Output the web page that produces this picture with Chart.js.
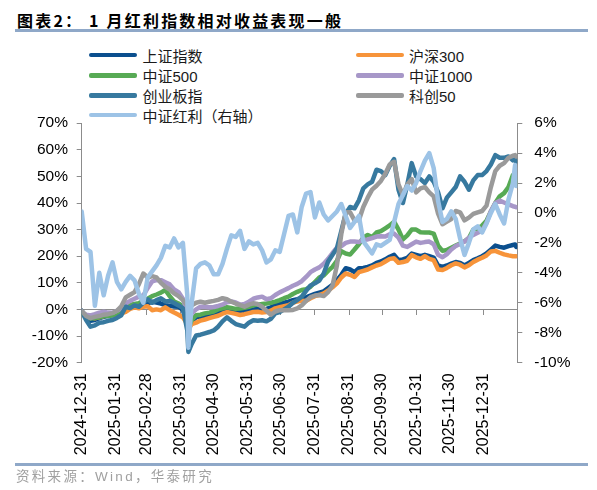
<!DOCTYPE html>
<html><head><meta charset="utf-8">
<script src="https://cdn.jsdelivr.net/npm/chart.js@4.4.1/dist/chart.umd.min.js"></script>
<style>
html,body{margin:0;padding:0;background:#fff;}
#page{position:relative;width:597px;height:490px;overflow:hidden;background:#fff;font-family:"Liberation Sans","Noto Sans CJK SC",sans-serif;}
#box{position:absolute;left:0;top:0;width:597px;height:490px;}
.rule{position:absolute;left:15px;width:573px;height:3px;background:#8FA8C8;}
#title{position:absolute;left:17px;top:8px;font-weight:bold;font-size:16px;font-family:"Noto Sans CJK SC",sans-serif;letter-spacing:2.2px;line-height:24px;color:#000;white-space:nowrap;}
#source{position:absolute;left:16px;top:468px;font-size:13.5px;line-height:18px;letter-spacing:2.3px;color:#A0A0A0;white-space:nowrap;}
.lg{position:absolute;height:20px;display:flex;align-items:center;white-space:nowrap;font-size:15px;color:#1a1a1a;}
.lg i{display:block;width:48px;height:4.5px;border-radius:2px;margin-right:5.5px;}
</style></head>
<body>
<div id="page">
  <div id="title">图表2： 1 月红利指数相对收益表现一般</div>
  <div class="rule" style="top:29.2px"></div>
  <div id="legend"></div>
  <div id="box"><canvas id="c"></canvas></div>
  <div class="rule" style="top:462.5px"></div>
  <div id="source">资料来源：Wind，华泰研究</div>
</div>
<script>
// ---- data ----
const dates = [
 '2024-12-31','2025-01-04','2025-01-08','2025-01-12','2025-01-16','2025-01-20','2025-01-24','2025-01-28','2025-02-01','2025-02-05',
 '2025-02-09','2025-02-13','2025-02-17','2025-02-21','2025-02-25','2025-03-01','2025-03-05','2025-03-09','2025-03-13','2025-03-17',
 '2025-03-21','2025-03-25','2025-03-29','2025-04-02','2025-04-06','2025-04-07','2025-04-10','2025-04-14','2025-04-18','2025-04-22',
 '2025-04-26','2025-04-30','2025-05-04','2025-05-08','2025-05-12','2025-05-16','2025-05-20','2025-05-24','2025-05-28','2025-06-01',
 '2025-06-05','2025-06-09','2025-06-13','2025-06-17','2025-06-21','2025-06-25','2025-06-29','2025-07-03','2025-07-07','2025-07-11',
 '2025-07-15','2025-07-19','2025-07-23','2025-07-27','2025-07-31','2025-08-04','2025-08-08','2025-08-12','2025-08-16','2025-08-20',
 '2025-08-24','2025-08-28','2025-09-01','2025-09-05','2025-09-09','2025-09-13','2025-09-17','2025-09-21','2025-09-25','2025-09-29',
 '2025-10-03','2025-10-07','2025-10-11','2025-10-15','2025-10-19','2025-10-23','2025-10-27','2025-10-31','2025-11-04','2025-11-08',
 '2025-11-12','2025-11-16','2025-11-20','2025-11-24','2025-11-28','2025-12-02','2025-12-06','2025-12-10','2025-12-14','2025-12-18',
 '2025-12-22','2025-12-26','2025-12-30','2026-01-03','2026-01-07','2026-01-11','2026-01-15','2026-01-19','2026-01-23','2026-01-27',
 '2026-01-29','2026-01-30'
];
// 上证指数 (%)
const shComposite = [
 -0.5,-3.0,-4.3,-4.0,-3.3,-2.8,-2.4,-2.2,-2.0,-1.0,
 0.3,1.0,1.0,1.0,1.4,2.2,2.9,2.6,2.2,1.6,
 1.4,1.1,1.0,-0.2,-5.0,-7.5,-4.5,-3.0,-2.8,-2.5,
 -2.3,-1.8,-1.2,-0.9,-0.5,-0.6,-0.9,-1.0,-0.8,-0.3,
 0.0,0.2,0.0,0.2,0.8,1.5,2.0,2.5,2.9,3.5,
 3.8,4.2,4.5,5.2,5.8,6.3,6.8,8.0,9.2,11.0,
 13.0,15.5,15.0,14.0,15.5,15.6,16.0,16.5,17.5,18.0,
 18.8,19.8,20.5,18.5,18.8,19.4,21.0,20.5,20.0,20.5,
 20.0,19.5,16.5,16.0,16.5,17.2,17.8,17.5,16.5,17.5,
 18.5,19.2,20.0,21.0,22.5,24.0,23.5,23.2,23.8,24.2,
 24.4,23.5
];
// 沪深300 (%)
const csi300 = [
 -1.0,-2.3,-3.0,-3.3,-3.0,-2.5,-2.2,-2.0,-1.8,-1.5,
 -0.9,0.2,0.8,0.4,1.0,1.2,-0.3,0.0,-0.3,0.8,
 -0.3,-1.2,-2.0,-3.0,-5.5,-7.5,-5.5,-5.0,-4.2,-3.8,
 -3.3,-2.8,-2.4,-1.6,-1.0,-1.3,-1.7,-2.1,-1.8,-1.4,
 -1.0,-0.9,-1.2,-1.0,-0.5,0.4,0.8,1.2,1.6,2.5,
 3.0,3.3,3.2,4.2,5.0,5.4,6.0,7.0,8.3,9.8,
 12.0,13.5,13.0,12.2,14.0,14.5,15.0,15.8,16.5,17.0,
 18.0,19.0,19.2,17.5,17.8,18.3,20.4,19.6,19.0,20.0,
 19.0,18.5,15.0,14.8,15.6,16.6,17.3,16.8,15.8,16.6,
 17.8,18.7,19.4,20.3,21.8,22.0,21.3,20.7,20.3,20.0,
 20.0,20.0
];
// 中证500 (%)
const csi500 = [
 -1.5,-2.8,-3.4,-3.2,-3.0,-2.5,-2.5,-2.2,-1.5,-0.9,
 1.0,1.8,2.0,2.3,3.3,4.0,5.0,5.6,6.3,7.3,
 5.0,3.0,2.2,1.2,-3.0,-7.0,-4.0,-2.2,-2.0,-1.5,
 -1.2,-0.8,0.0,0.4,0.8,0.5,0.2,0.3,0.6,1.0,
 1.5,1.8,2.0,2.2,2.5,2.9,3.5,4.2,4.8,5.8,
 6.6,7.3,7.6,8.5,10.3,12.0,12.8,14.5,16.0,18.3,
 21.9,21.0,20.6,22.5,24.5,27.0,28.0,27.2,28.9,29.4,
 30.5,31.6,33.0,30.0,26.3,27.8,30.0,30.0,29.0,28.9,
 28.9,28.5,24.0,22.0,22.3,23.2,24.0,24.8,25.6,26.8,
 30.0,30.4,31.5,33.3,36.8,40.0,42.5,43.7,46.0,50.5,
 49.5,47.3
];
// 中证1000 (%)
const csi1000 = [
 -0.9,-2.0,-2.3,-1.8,-1.2,-0.9,-1.2,-1.3,-0.5,0.4,
 2.2,3.2,4.0,4.8,5.3,8.0,10.5,11.0,11.0,10.2,
 9.4,7.5,6.5,4.0,-1.0,-5.0,-1.5,0.0,1.0,1.0,
 0.8,0.9,1.3,1.8,2.7,3.0,2.6,1.8,2.0,2.9,
 4.0,4.5,4.8,3.8,4.2,5.4,6.4,7.2,8.0,8.9,
 9.6,10.6,12.2,14.0,15.0,15.8,17.2,19.0,21.2,23.2,
 23.8,25.0,25.5,25.5,25.3,26.2,26.3,26.8,27.4,27.5,
 27.4,28.2,28.5,27.0,24.0,23.5,24.5,25.5,25.0,25.3,
 25.5,24.5,20.5,19.6,20.8,22.5,23.8,24.6,25.5,27.0,
 28.0,28.8,29.6,32.5,37.0,40.0,40.9,40.2,39.5,38.8,
 38.6,38.4
];
// 创业板指 (%)
const chinext = [
 -0.7,-4.0,-6.5,-6.0,-5.0,-4.8,-4.3,-4.0,-3.2,-2.2,
 1.0,0.5,1.5,1.0,2.5,3.8,2.5,3.5,4.2,3.0,
 3.2,2.4,1.5,0.5,-8.0,-16.0,-13.0,-9.8,-9.5,-9.0,
 -8.5,-7.9,-6.5,-4.5,-3.0,-4.3,-5.5,-6.0,-6.5,-5.0,
 -4.1,-4.3,-4.1,-4.5,-3.5,-1.5,-1.0,0.0,1.0,2.5,
 3.5,4.8,7.0,9.0,9.8,10.8,13.5,18.0,20.5,23.0,
 29.5,36.0,38.5,38.0,41.0,45.5,47.0,48.0,52.5,52.0,
 50.5,54.0,56.5,45.0,40.0,47.0,55.0,50.0,49.0,47.5,
 50.0,48.0,44.0,38.0,42.0,44.0,46.0,50.0,48.0,45.0,
 48.5,50.5,50.5,52.0,54.5,58.0,57.0,57.0,57.5,56.0,
 56.5,55.5
];
// 科创50 (%)
const star50 = [
 -0.5,-2.5,-3.3,-2.8,-2.5,-2.0,-1.8,-1.4,-0.5,1.2,
 4.5,5.5,6.5,9.5,13.5,12.0,12.5,12.0,10.0,8.5,
 7.5,6.0,5.0,3.5,1.5,0.5,1.5,2.5,2.9,2.5,
 2.9,3.2,3.6,4.2,3.8,2.9,2.2,1.6,1.0,1.8,
 2.3,2.0,1.0,-0.5,-2.0,-0.8,-0.3,-0.3,-0.3,-0.2,
 0.4,1.5,3.2,4.6,5.2,5.4,5.0,6.5,9.0,16.5,
 28.3,36.5,36.5,33.5,33.5,38.5,42.0,45.0,46.5,48.3,
 51.0,54.5,55.5,47.0,43.0,47.0,49.0,44.0,45.5,46.0,
 44.0,42.5,36.0,32.0,33.0,34.0,37.0,36.5,33.5,34.5,
 35.9,36.5,37.0,39.0,46.0,52.0,54.0,55.0,57.0,57.8,
 58.0,57.5
];
// 中证红利 (右轴, %)
const csiDividend = [
 0.1,-2.4,-2.6,-6.2,-4.0,-5.5,-4.2,-3.3,-4.6,-5.1,
 -4.6,-4.2,-4.5,-5.4,-6.0,-4.3,-3.9,-3.5,-3.0,-2.2,
 -2.3,-1.7,-2.3,-2.0,-5.5,-9.0,-6.0,-3.7,-3.4,-3.3,
 -3.5,-4.1,-4.1,-3.4,-2.4,-1.5,-1.6,-1.2,-2.4,-1.9,
 -2.1,-2.0,-2.5,-3.3,-3.1,-2.5,-2.6,-1.4,-0.2,-0.1,
 -1.3,0.4,1.3,1.4,-0.3,0.7,-0.1,-0.5,-0.2,0.1,
 0.6,-0.2,-1.0,-0.6,-0.2,-1.9,-2.3,-2.7,-2.1,-2.2,
 -2.0,-1.8,-0.6,0.6,1.2,1.8,1.5,2.0,2.8,3.5,
 4.0,3.0,0.8,-0.6,-0.4,0.1,-0.4,-1.7,-2.8,-2.0,
 -1.1,-0.9,-1.3,-0.7,0.0,0.6,-0.1,-0.7,0.9,2.0,
 3.2,1.8
];
const seriesNames = ['上证指数','沪深300','中证500','中证1000','创业板指','科创50','中证红利（右轴）'];
const seriesColors = ['#0B4F8E','#F7943A','#57AA55','#A797C8','#37799F','#9A9A9A','#9DC3E6'];
const xTickLabels = ['2024-12-31','2025-01-31','2025-02-28','2025-03-31','2025-04-30','2025-05-31','2025-06-30',
                     '2025-07-31','2025-08-31','2025-09-30','2025-10-31','2025-11-30','2025-12-31'];
const xAxisEnd = '2026-01-31';
const leftRange = [-20, 70, 10];
const rightRange = [-10, 6, 2];

// ---- helpers ----
const base = Date.parse(dates[0]);
const dayOf = s => Math.round((Date.parse(s) - base) / 86400000);
const xTickDays = xTickLabels.map(dayOf);
const seriesValues = [shComposite, csi300, csi500, csi1000, chinext, star50, csiDividend];

// ---- legend (HTML) ----
const legendCols = [89, 355.5];
const legendRows = [55, 75.5, 95.5, 115];
const lg = document.getElementById('legend');
seriesNames.forEach((name, i) => {
  const d = document.createElement('div');
  d.className = 'lg';
  d.style.left = legendCols[i % 2] + 'px';
  d.style.top = (legendRows[Math.floor(i / 2)] - 10) + 'px';
  const sw = document.createElement('i');
  sw.style.background = seriesColors[i];
  const t = document.createElement('span');
  t.textContent = name;
  d.appendChild(sw); d.appendChild(t);
  lg.appendChild(d);
});

// ---- chart ----
const datasets = seriesValues.map((vals, i) => ({
  label: seriesNames[i],
  data: dates.map((d, j) => ({ x: dayOf(d), y: vals[j] })),
  yAxisID: i === 6 ? 'y2' : 'y',
  borderColor: seriesColors[i],
  backgroundColor: seriesColors[i],
  borderWidth: 4.5,
  pointRadius: 0,
  pointHoverRadius: 0,
  tension: 0,
  borderJoinStyle: 'round',
  borderCapStyle: 'round',
  order: seriesValues.length - 1 - i
}));

const axisGray = '#8C8C8C';
const tickFont = { family: 'Liberation Sans', size: 15.5 };

new Chart(document.getElementById('c'), {
  type: 'line',
  data: { datasets },
  options: {
    responsive: true,
    maintainAspectRatio: false,
    animation: false,
    events: [],
    layout: { padding: { top: 123.2, left: 0, right: 0, bottom: 0 } },
    plugins: { legend: { display: false }, tooltip: { enabled: false }, title: { display: false } },
    scales: {
      x: {
        type: 'linear', position: 'bottom',
        min: 0, max: dayOf(xAxisEnd),
        afterBuildTicks: s => { s.ticks = xTickDays.map(v => ({ value: v })); },
        afterFit: s => { s.height = 490 - 362.6; },
        grid: { display: false, drawTicks: false },
        border: { display: false },
        ticks: {
          autoSkip: false, minRotation: 90, maxRotation: 90, padding: 10.7,
          color: '#000', font: { family: 'Liberation Sans', size: 16 },
          callback: v => { const k = xTickDays.indexOf(v); return k >= 0 ? xTickLabels[k] : ''; }
        }
      },
      xLine: {
        axis: 'x', type: 'linear', position: { y: 0 },
        min: 0, max: dayOf(xAxisEnd),
        afterBuildTicks: s => { s.ticks = xTickDays.concat([dayOf(xAxisEnd)]).map(v => ({ value: v })); },
        ticks: { display: false },
        grid: { display: true, drawOnChartArea: false, drawTicks: true, tickLength: 5, color: axisGray, lineWidth: 1 },
        border: { display: true, color: axisGray, width: 1 }
      },
      y: {
        position: 'left', min: leftRange[0], max: leftRange[1],
        afterFit: s => { s.width = 81.7; },
        ticks: { stepSize: leftRange[2], padding: 8.7, color: '#000', font: tickFont, callback: v => v + '%' },
        grid: { drawOnChartArea: false, drawTicks: true, tickLength: 5, color: axisGray },
        border: { display: true, color: axisGray, width: 1 }
      },
      y2: {
        position: 'right', min: rightRange[0], max: rightRange[1],
        afterFit: s => { s.width = 597 - 517.3; },
        ticks: { stepSize: rightRange[2], padding: 12, color: '#000', font: tickFont, callback: v => v + '%' },
        grid: { drawOnChartArea: false, drawTicks: true, tickLength: 5, color: axisGray },
        border: { display: true, color: axisGray, width: 1 }
      }
    }
  }
});
</script>
</body></html>
